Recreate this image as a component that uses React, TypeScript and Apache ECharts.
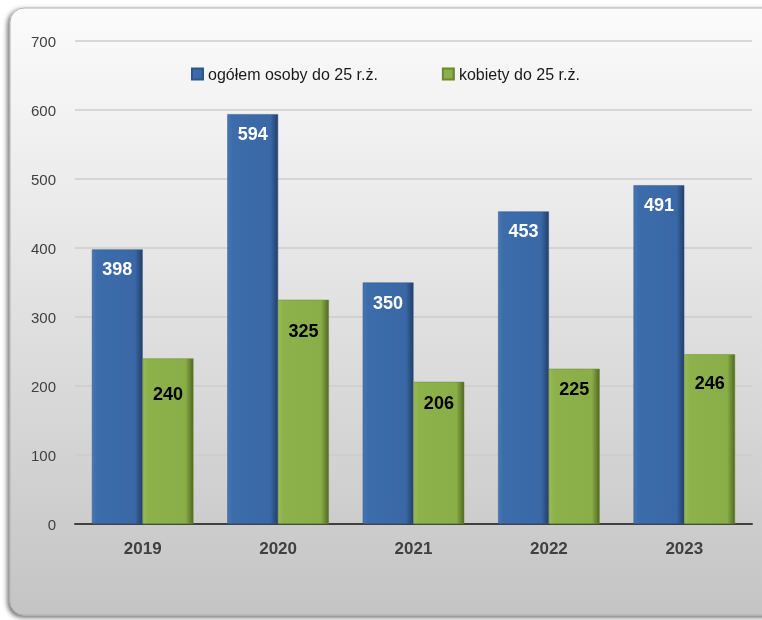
import React, { useEffect, useRef } from "react";
import * as echarts from "echarts";

const categories = ["2019", "2020", "2021", "2022", "2023"];
const seriesNames = ["ogółem osoby do 25 r.ż.", "kobiety do 25 r.ż."];
const totalValues = [398, 594, 350, 453, 491];
const womenValues = [240, 325, 206, 225, 246];
const yTicks = { min: 0, max: 700, interval: 100 };

// label distances below the bar top (layout only)
const totalLabelDist = [11, 11, 11, 11, 11];
const womenLabelDist = [27, 22, 12, 11, 20];

const blueFill = new echarts.graphic.LinearGradient(0, 0, 1, 0, [
  { offset: 0, color: "#4676b5" },
  { offset: 0.1, color: "#3d6cab" },
  { offset: 0.85, color: "#3a68a6" },
  { offset: 1, color: "#233f68" },
]);
const greenFill = new echarts.graphic.LinearGradient(0, 0, 1, 0, [
  { offset: 0, color: "#97bb55" },
  { offset: 0.1, color: "#8db24b" },
  { offset: 0.85, color: "#89ad47" },
  { offset: 1, color: "#4f6a22" },
]);

export default function App() {
  const ref = useRef<HTMLDivElement>(null);
  useEffect(() => {
    if (!ref.current) return;
    const chart = echarts.init(ref.current, null, { renderer: "svg" });
    const font = "'Liberation Sans', Arial, sans-serif";
    chart.setOption({
      animation: false,
      textStyle: { fontFamily: font },
      graphic: [
        {
          type: "rect",
          z: -10,
          shape: { x: 10, y: 8, width: 780, height: 607, r: 14 },
          style: {
            fill: new echarts.graphic.LinearGradient(0, 0, 0, 1, [
              { offset: 0, color: "#fbfbfb" },
              { offset: 0.35, color: "#e9e9e9" },
              { offset: 1, color: "#c4c4c4" },
            ]),
            stroke: "#b0b0b0",
            lineWidth: 1,
            shadowColor: "rgba(0,0,0,0.6)",
            shadowBlur: 5,
            shadowOffsetX: -2,
            shadowOffsetY: 2,
          },
        },
      ],
      legend: {
        top: 61,
        left: 186,
        itemWidth: 11,
        itemHeight: 11,
        itemGap: 64,
        icon: "rect",
        textStyle: { fontSize: 16, color: "#1a1a1a", fontFamily: font },
        data: seriesNames,
      },
      grid: { left: 75, right: 10, top: 41, bottom: 96 },
      xAxis: {
        type: "category",
        data: categories,
        axisLine: { show: true, lineStyle: { color: "#404040", width: 2 } },
        axisTick: { show: false },
        axisLabel: {
          margin: 16,
          fontSize: 17,
          fontWeight: "bold",
          color: "#404040",
          fontFamily: font,
        },
      },
      yAxis: {
        type: "value",
        min: yTicks.min,
        max: yTicks.max,
        interval: yTicks.interval,
        axisLine: { show: false },
        axisTick: { show: false },
        splitLine: { lineStyle: { color: "#cdcdcd", width: 1.5 } },
        axisLabel: { margin: 19, fontSize: 15, color: "#404040", fontFamily: font },
      },
      series: [
        {
          name: seriesNames[0],
          type: "bar",
          barGap: "0%",
          barCategoryGap: "25%",
          itemStyle: { color: blueFill, borderColor: "#2f5687", borderWidth: 0.5 },
          data: totalValues.map((v, i) => ({
            value: v,
            label: { distance: totalLabelDist[i] },
          })),
          label: {
            show: true,
            position: "insideTop",
            color: "#ffffff",
            fontSize: 18,
            fontWeight: "bold",
            fontFamily: font,
          },
        },
        {
          name: seriesNames[1],
          type: "bar",
          barGap: "0%",
          barCategoryGap: "25%",
          itemStyle: { color: greenFill, borderColor: "#6a8a30", borderWidth: 0.5 },
          data: womenValues.map((v, i) => ({
            value: v,
            label: { distance: womenLabelDist[i] },
          })),
          label: {
            show: true,
            position: "insideTop",
            color: "#000000",
            fontSize: 18,
            fontWeight: "bold",
            fontFamily: font,
          },
        },
      ],
    });
    return () => chart.dispose();
  }, []);
  return (
    <div
      ref={ref}
      style={{ position: "fixed", left: 0, top: 0, width: 762, height: 620 }}
    />
  );
}
